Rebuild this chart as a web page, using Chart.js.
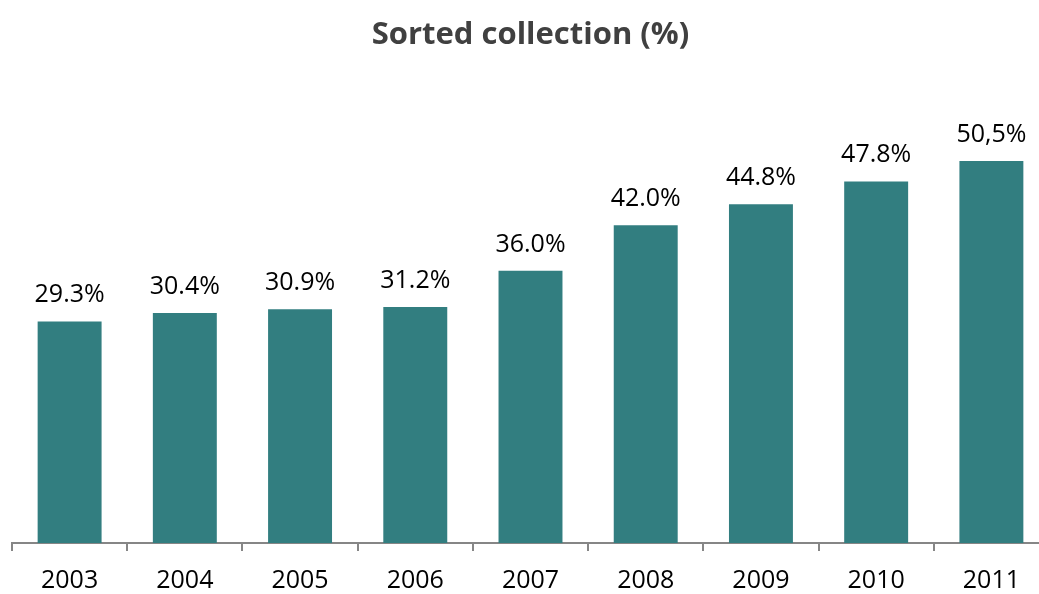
<!DOCTYPE html>
<html>
<head>
<meta charset="utf-8">
<script src="https://cdn.jsdelivr.net/npm/chart.js@4/dist/chart.umd.min.js"></script>
<style>
  html, body { margin: 0; padding: 0; background: #ffffff; overflow: hidden; }
  #wrap { width: 1039px; height: 594px; overflow: hidden; }
</style>
</head>
<body>
<div id="wrap"><canvas id="c" width="1049" height="594"></canvas></div>
<script>
const years = ['2003', '2004', '2005', '2006', '2007', '2008', '2009', '2010', '2011'];
const sortedShare = [29.3, 30.4, 30.9, 31.2, 36.0, 42.0, 44.8, 47.8, 50.5];
const valueLabels = ['29.3%', '30.4%', '30.9%', '31.2%', '36.0%', '42.0%', '44.8%', '47.8%', '50,5%'];

const FONT = "'Open Sans', 'Noto Sans', sans-serif";

// Writes each bar's value label just above its top edge
const barValueLabels = {
  id: 'barValueLabels',
  afterDatasetsDraw(chart) {
    const ctx = chart.ctx;
    const meta = chart.getDatasetMeta(0);
    ctx.save();
    ctx.font = '25px ' + FONT;
    ctx.fillStyle = '#000000';
    ctx.textAlign = 'center';
    ctx.textBaseline = 'alphabetic';
    meta.data.forEach((bar, i) => {
      ctx.fillText(valueLabels[i], bar.x, bar.y - 19);
    });
    ctx.restore();
  }
};

new Chart(document.getElementById('c'), {
  type: 'bar',
  data: {
    labels: years,
    datasets: [{
      data: sortedShare,
      backgroundColor: '#327E80',
      borderWidth: 0,
      categoryPercentage: 1.0,
      barPercentage: 0.555
    }]
  },
  options: {
    responsive: false,
    animation: false,
    layout: { padding: { left: 12, right: 0, top: 0, bottom: -17 } },
    plugins: {
      legend: { display: false },
      tooltip: { enabled: false },
      title: {
        display: true,
        text: 'Sorted collection (%)',
        color: '#404040',
        font: { family: FONT, size: 31, weight: 'bold', lineHeight: 1.2 },
        padding: { top: 17, bottom: 35 }
      }
    },
    scales: {
      y: {
        display: false,
        min: 0,
        max: 60
      },
      x: {
        offset: true,
        border: { display: true, color: '#868686', width: 2 },
        grid: {
          offset: true,
          drawOnChartArea: false,
          drawTicks: true,
          tickLength: 8,
          color: '#868686',
          lineWidth: 2
        },
        ticks: {
          color: '#000000',
          font: { family: FONT, size: 25, lineHeight: 1.2 },
          padding: 15,
          maxRotation: 0
        }
      }
    }
  },
  plugins: [barValueLabels]
});
</script>
</body>
</html>
